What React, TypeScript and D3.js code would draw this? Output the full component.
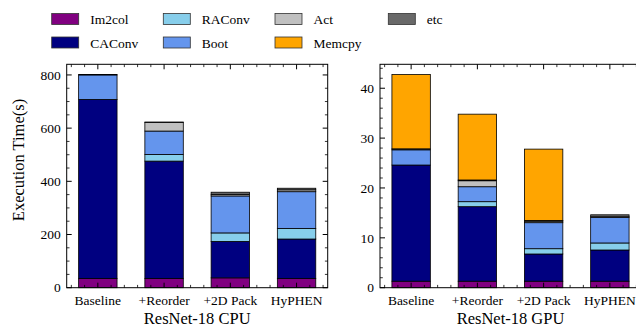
import React from "react";
import * as d3 from "d3";

// categories and stacked series (bottom to top)
const categories = ["Baseline", "+Reorder", "+2D Pack", "HyPHEN"];
const seriesNames = ["Im2col", "CAConv", "RAConv", "Boot", "Act", "etc", "Memcpy"];
const legendOrder = ["Im2col", "CAConv", "RAConv", "Boot", "Act", "Memcpy", "etc"];
const colors: Record<string, string> = {
  Im2col: "#800080",
  CAConv: "#000080",
  RAConv: "#87CEEB",
  Boot: "#6495ED",
  Act: "#C0C0C0",
  Memcpy: "#FFA500",
  etc: "#696969",
};

// CPU execution time (s)
const cpuIm2col = [35, 35, 37, 35];
const cpuCAConv = [673, 441, 137, 148];
const cpuRAConv = [0, 25, 32, 40];
const cpuBoot = [92, 88, 139, 138];
const cpuAct = [0, 32, 6, 7];
const cpuEtc = [2, 2, 8, 6];
const cpuMemcpy = [0, 0, 0, 0];

// GPU execution time (s)
const gpuIm2col = [1.3, 1.3, 1.3, 1.3];
const gpuCAConv = [23.3, 14.95, 5.46, 6.26];
const gpuRAConv = [0, 1.0, 1.06, 1.41];
const gpuBoot = [3.05, 3.0, 5.22, 5.15];
const gpuAct = [0, 1.2, 0.3, 0.1];
const gpuEtc = [0.2, 0.15, 0.15, 0.4];
const gpuMemcpy = [14.9, 13.2, 14.3, 0];

const cpuTicks = [0, 200, 400, 600, 800];
const gpuTicks = [0, 10, 20, 30, 40];

const FONT = "Liberation Serif, Tinos, Times New Roman, Times, serif";

const buildRows = (s: number[][]) =>
  categories.map((c, i) => {
    const row: any = { cat: c, idx: i };
    seriesNames.forEach((n, k) => (row[n] = s[k][i]));
    return row;
  });

const cpuRows = buildRows([cpuIm2col, cpuCAConv, cpuRAConv, cpuBoot, cpuAct, cpuEtc, cpuMemcpy]);
const gpuRows = buildRows([gpuIm2col, gpuCAConv, gpuRAConv, gpuBoot, gpuAct, gpuEtc, gpuMemcpy]);

const top = 64.3;
const bottom = 287.7;

type PanelProps = {
  rows: any[];
  x0: number;
  x1: number;
  ymax: number;
  ticks: number[];
  minorStep: number;
  title: string;
};

const Panel = ({ rows, x0, x1, ymax, ticks, minorStep, title }: PanelProps) => {
  const x = d3.scaleLinear().domain([-0.47, 3.47]).range([x0, x1]);
  const y = d3.scaleLinear().domain([0, ymax]).range([bottom, top]);
  const stacked = d3.stack<any>().keys(seriesNames)(rows);
  const bw = x(0.58) - x(0);

  const yMinor = d3.range(0, ymax, minorStep).filter((v) => !ticks.includes(v));
  const xMinor = d3
    .range(-0.4, 3.41, 0.2)
    .map((v) => Math.round(v * 10) / 10)
    .filter((v) => !Number.isInteger(v));
  const xMajor = categories.map((_, i) => i);

  return (
    <g>
      {stacked.map((layer) => (
        <g key={layer.key}>
          {layer.map((d, i) =>
            d[1] - d[0] > 0 ? (
              <rect
                key={i}
                x={x(i) - bw / 2}
                y={y(d[1])}
                width={bw}
                height={y(d[0]) - y(d[1])}
                fill={colors[layer.key]}
                stroke="#000"
                strokeWidth={0.8}
              />
            ) : null
          )}
        </g>
      ))}
      {/* frame */}
      <rect x={x0} y={top} width={x1 - x0} height={bottom - top} fill="none" stroke="#000" strokeWidth={1} />
      {/* y ticks, both sides, inward */}
      {ticks.map((t) => (
        <g key={"yt" + t}>
          <line x1={x0} x2={x0 + 5} y1={y(t)} y2={y(t)} stroke="#000" />
          <line x1={x1} x2={x1 - 5} y1={y(t)} y2={y(t)} stroke="#000" />
          <text x={x0 - 6} y={y(t)} dy="0.35em" textAnchor="end" fontSize={13.5} fontFamily={FONT}>
            {t}
          </text>
        </g>
      ))}
      {yMinor.map((t) => (
        <g key={"ym" + t}>
          <line x1={x0} x2={x0 + 2.8} y1={y(t)} y2={y(t)} stroke="#000" strokeWidth={0.8} />
          <line x1={x1} x2={x1 - 2.8} y1={y(t)} y2={y(t)} stroke="#000" strokeWidth={0.8} />
        </g>
      ))}
      {/* x ticks, top and bottom, inward */}
      {xMajor.map((t) => (
        <g key={"xt" + t}>
          <line x1={x(t)} x2={x(t)} y1={bottom} y2={bottom - 5} stroke="#000" />
          <line x1={x(t)} x2={x(t)} y1={top} y2={top + 5} stroke="#000" />
          <text x={x(t)} y={305} textAnchor="middle" fontSize={13.5} fontFamily={FONT}>
            {categories[t]}
          </text>
        </g>
      ))}
      {xMinor.map((t) => (
        <g key={"xm" + t}>
          <line x1={x(t)} x2={x(t)} y1={bottom} y2={bottom - 2.8} stroke="#000" strokeWidth={0.8} />
          <line x1={x(t)} x2={x(t)} y1={top} y2={top + 2.8} stroke="#000" strokeWidth={0.8} />
        </g>
      ))}
      <text x={(x0 + x1) / 2} y={323.5} textAnchor="middle" fontSize={16.5} fontFamily={FONT}>
        {title}
      </text>
    </g>
  );
};

const Legend = () => {
  const colX = [51.7, 163.3, 275, 388.3];
  const rowY = [13.5, 37];
  return (
    <g>
      {legendOrder.map((name, i) => {
        const c = Math.floor(i / 2);
        const r = i % 2;
        return (
          <g key={name}>
            <rect x={colX[c]} y={rowY[r]} width={27} height={11} fill={colors[name]} stroke="#333" strokeWidth={0.8} />
            <text x={colX[c] + 38.5} y={rowY[r] + 10.5} fontSize={13.5} fontFamily={FONT}>
              {name}
            </text>
          </g>
        );
      })}
    </g>
  );
};

export default function App() {
  return (
    <svg
      width={636}
      height={327}
      style={{ position: "fixed", left: 0, top: 0, background: "#fff", overflow: "hidden" }}
    >
      <Legend />
      <Panel rows={cpuRows} x0={66.7} x1={327.7} ymax={840} ticks={cpuTicks} minorStep={50} title="ResNet-18 CPU" />
      <Panel rows={gpuRows} x0={380} x1={641} ymax={44.8} ticks={gpuTicks} minorStep={2} title="ResNet-18 GPU" />
      <text transform="translate(24,160) rotate(-90)" textAnchor="middle" fontSize={16.5} fontFamily={FONT}>
        Execution Time(s)
      </text>
    </svg>
  );
}
